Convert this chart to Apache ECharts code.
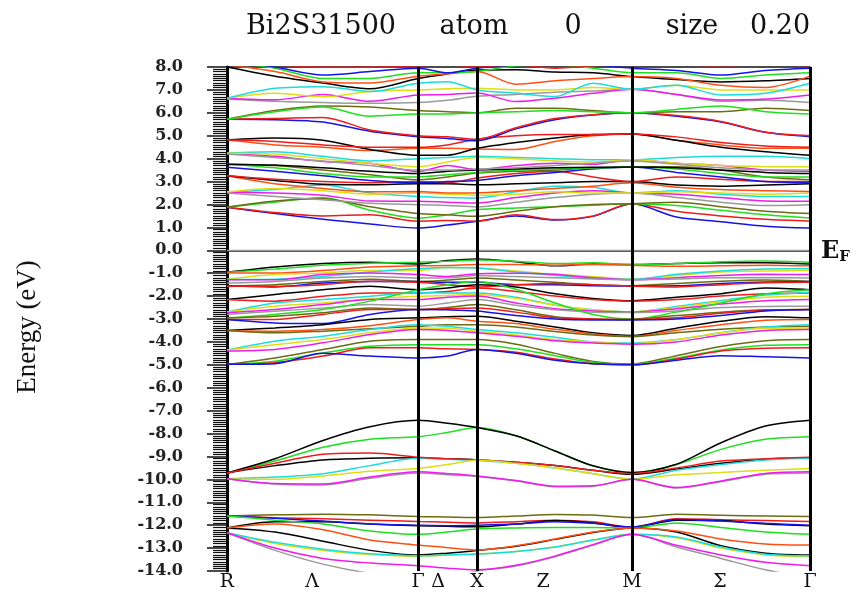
<!DOCTYPE html>
<html>
<head>
<meta charset="utf-8">
<script src="https://cdn.jsdelivr.net/npm/echarts@6/dist/echarts.min.js"></script>
<style>
  html, body { margin: 0; padding: 0; background: #fff; }
  #chart { width: 867px; height: 592px; }
</style>
</head>
<body>
<div id="chart"></div>
<script>
// k-path: distance along the path for each sampled point
const kPos = [0, 0.48, 0.96, 1.43, 1.91, 2.205, 2.50, 2.89, 3.28, 3.66, 4.05, 4.495, 4.94, 5.385, 5.83];
const kLabels = ['R', 'Λ', 'Γ', 'Δ', 'X', 'Z', 'M', 'Σ', 'Γ'];
const kLabelPos = [0, 0.85, 1.91, 2.11, 2.50, 3.16, 4.05, 4.93, 5.83];
const kLines = [1.91, 2.50, 4.05, 5.83];

// S 3s like bands (-11.5 .. -14)
const lowBands = [
  [-11.6,-11.55,-11.52,-11.55,-11.62,-11.64,-11.67,-11.6,-11.53,-11.56,-11.67,-11.52,-11.57,-11.6,-11.62],
  [-11.6,-11.68,-11.72,-11.78,-11.84,-11.87,-11.9,-11.85,-11.78,-11.85,-12.08,-11.72,-11.76,-11.8,-11.84],
  [-12.12,-11.85,-11.85,-11.95,-12.02,-12.05,-12.07,-11.95,-11.8,-11.9,-12.1,-11.78,-11.8,-11.95,-12.02],
  [-11.6,-11.7,-11.82,-11.95,-12.0,-12.02,-12.0,-11.95,-11.85,-11.92,-12.08,-11.75,-11.82,-11.92,-12.0],
  [-11.6,-11.78,-11.95,-12.25,-12.4,-12.3,-12.17,-12.12,-12.1,-12.1,-12.12,-11.9,-12.1,-12.3,-12.4],
  [-12.12,-12.3,-12.7,-13.1,-13.3,-13.22,-13.1,-12.92,-12.62,-12.32,-12.12,-12.3,-12.9,-13.22,-13.3],
  [-12.12,-11.95,-12.2,-12.65,-12.87,-12.98,-13.08,-12.9,-12.6,-12.3,-12.12,-12.25,-12.6,-12.82,-12.87],
  [-12.33,-12.8,-13.1,-13.28,-13.36,-13.3,-13.26,-13.15,-12.95,-12.65,-12.4,-12.55,-13.0,-13.3,-13.36],
  [-12.33,-12.75,-13.05,-13.25,-13.33,-13.3,-13.26,-13.15,-12.95,-12.65,-12.4,-12.52,-12.95,-13.27,-13.33],
  [-12.33,-13.1,-13.7,-14.1,-14.3,-14.3,-14.0,-13.78,-13.38,-12.87,-12.4,-12.95,-13.45,-13.95,-14.3],
  [-12.33,-13.0,-13.45,-13.65,-13.77,-13.88,-13.95,-13.75,-13.35,-12.85,-12.4,-12.88,-13.3,-13.62,-13.77]
];
const lowColors = ['o','r','k','b','g','k','n','y','c','a','m'];

// Bi 6s like bands (-7.4 .. -10.4)
const midBands = [
  [-9.72,-9.2,-8.6,-8.25,-8.14,-7.95,-7.74,-8.1,-8.76,-9.41,-9.72,-9.35,-8.69,-8.25,-8.14],
  [-9.72,-9.1,-8.3,-7.7,-7.42,-7.55,-7.74,-8.1,-8.76,-9.41,-9.7,-9.34,-8.4,-7.67,-7.42],
  [-9.72,-9.4,-9.15,-9.08,-9.06,-9.1,-9.15,-9.25,-9.4,-9.6,-9.78,-9.55,-9.3,-9.12,-9.06],
  [-9.97,-9.9,-9.75,-9.4,-9.08,-9.12,-9.17,-9.3,-9.5,-9.75,-9.99,-9.6,-9.35,-9.15,-9.08],
  [-9.72,-9.3,-8.9,-8.85,-9.03,-9.1,-9.15,-9.25,-9.4,-9.6,-9.75,-9.5,-9.2,-9.1,-9.03],
  [-9.97,-10.0,-9.85,-9.65,-9.53,-9.35,-9.17,-9.3,-9.5,-9.75,-10.0,-9.8,-9.7,-9.6,-9.53],
  [-9.97,-10.2,-10.25,-9.95,-9.72,-9.8,-9.87,-10.07,-10.32,-10.3,-10.0,-10.38,-10.1,-9.78,-9.72],
  [-9.97,-10.18,-10.2,-9.9,-9.67,-9.75,-9.85,-10.05,-10.3,-10.28,-10.0,-10.36,-10.07,-9.74,-9.67]
];
const midColors = ['g','k','k','c','r','y','a','m'];

// valence bands (-0.4 .. -5.0)
const valBands = [
  [-0.96,-0.73,-0.58,-0.52,-0.6,-0.45,-0.38,-0.5,-0.68,-0.6,-0.62,-0.58,-0.55,-0.55,-0.6],
  [-0.96,-0.82,-0.65,-0.57,-0.52,-0.48,-0.42,-0.48,-0.58,-0.55,-0.63,-0.58,-0.5,-0.47,-0.52],
  [-0.99,-0.99,-0.88,-0.73,-0.68,-0.67,-0.62,-0.62,-0.65,-0.62,-0.65,-0.7,-0.68,-0.65,-0.68],
  [-1.26,-1.06,-0.99,-0.88,-0.88,-0.75,-0.77,-0.9,-1.05,-1.15,-1.26,-1.1,-0.95,-0.9,-0.88],
  [-1.28,-1.26,-1.14,-0.95,-0.8,-0.75,-0.77,-0.95,-1.1,-1.2,-1.27,-1.05,-0.9,-0.82,-0.8],
  [-1.29,-1.29,-1.06,-0.99,-1.06,-1.14,-1.02,-1.0,-1.05,-1.2,-1.29,-1.2,-1.1,-1.05,-1.06],
  [-1.43,-1.36,-1.21,-1.14,-1.21,-1.2,-1.1,-1.15,-1.2,-1.25,-1.29,-1.25,-1.2,-1.2,-1.21],
  [-1.55,-1.5,-1.36,-1.26,-1.36,-1.3,-1.21,-1.3,-1.4,-1.5,-1.55,-1.45,-1.35,-1.3,-1.36],
  [-1.55,-1.6,-1.43,-1.36,-1.36,-1.4,-1.4,-1.5,-1.5,-1.55,-1.56,-1.55,-1.45,-1.38,-1.36],
  [-1.57,-1.57,-1.5,-1.35,-1.4,-1.5,-1.6,-1.5,-1.45,-1.5,-1.57,-1.6,-1.5,-1.42,-1.4],
  [-2.15,-1.93,-1.72,-1.57,-1.72,-1.65,-1.5,-1.6,-1.9,-2.1,-2.2,-2.05,-1.9,-1.65,-1.72],
  [-2.15,-2.22,-2.01,-1.86,-1.86,-1.8,-1.65,-1.8,-2.0,-2.15,-2.22,-2.15,-2.0,-1.9,-1.86],
  [-2.69,-2.3,-2.15,-2.01,-1.84,-1.86,-1.86,-2.05,-2.4,-2.6,-2.69,-2.45,-2.2,-1.95,-1.84],
  [-2.69,-2.44,-2.3,-2.12,-2.01,-1.97,-1.93,-2.1,-2.4,-2.6,-2.69,-2.5,-2.25,-2.05,-2.01],
  [-2.73,-2.59,-2.37,-2.15,-2.15,-2.05,-2.0,-2.3,-2.55,-2.65,-2.7,-2.55,-2.35,-2.2,-2.15],
  [-2.8,-2.66,-2.52,-2.37,-2.44,-2.3,-2.15,-2.4,-2.6,-2.7,-2.72,-2.65,-2.5,-2.45,-2.44],
  [-2.95,-2.8,-2.59,-2.22,-1.72,-1.5,-1.36,-1.7,-2.3,-2.8,-3.0,-2.7,-2.3,-1.9,-1.72],
  [-2.95,-2.88,-2.73,-2.52,-2.59,-2.5,-2.37,-2.6,-2.9,-3.0,-3.02,-2.85,-2.7,-2.6,-2.59],
  [-3.02,-3.02,-2.8,-2.59,-2.59,-2.55,-2.52,-2.7,-2.95,-3.0,-3.02,-2.95,-2.75,-2.62,-2.59],
  [-3.02,-3.17,-3.2,-2.8,-2.59,-2.6,-2.65,-2.85,-3.0,-3.04,-3.04,-3.0,-2.85,-2.65,-2.59],
  [-3.5,-3.39,-3.25,-3.02,-2.95,-2.9,-2.88,-3.1,-3.35,-3.6,-3.72,-3.4,-3.1,-2.9,-2.95],
  [-3.5,-3.53,-3.46,-3.29,-3.02,-2.95,-3.1,-3.2,-3.45,-3.65,-3.75,-3.5,-3.25,-3.05,-3.02],
  [-3.5,-3.6,-3.53,-3.43,-3.32,-3.25,-3.25,-3.35,-3.55,-3.7,-3.77,-3.6,-3.45,-3.35,-3.32],
  [-4.35,-3.97,-3.75,-3.46,-3.25,-3.32,-3.46,-3.6,-3.8,-4.0,-4.05,-3.9,-3.6,-3.35,-3.25],
  [-4.35,-4.12,-3.9,-3.6,-3.39,-3.4,-3.53,-3.7,-3.9,-4.0,-4.08,-3.9,-3.6,-3.4,-3.39],
  [-4.4,-4.33,-4.04,-3.68,-3.46,-3.5,-3.6,-3.75,-3.95,-4.05,-4.1,-4.0,-3.7,-3.5,-3.46],
  [-4.98,-4.7,-4.33,-3.97,-3.9,-3.9,-3.9,-4.1,-4.5,-4.85,-4.96,-4.6,-4.2,-3.95,-3.9],
  [-4.98,-4.84,-4.48,-4.19,-4.12,-4.12,-4.12,-4.3,-4.6,-4.9,-4.98,-4.7,-4.35,-4.15,-4.12],
  [-4.98,-4.91,-4.62,-4.26,-4.26,-4.3,-4.33,-4.45,-4.75,-4.95,-5.0,-4.75,-4.4,-4.28,-4.26],
  [-4.98,-4.95,-4.5,-4.62,-4.7,-4.62,-4.33,-4.5,-4.8,-4.95,-5.0,-4.8,-4.6,-4.65,-4.7]
];
const valColors = ['k','g','n','y','c','m','a','o','b','r','k','r','c','y','m','a','g','o','r','b','k','n','o','c','y','m','o','g','r','b'];

// conduction bands (0.9 .. 8+)
const conBands = [
  [1.88,1.6,1.35,1.15,0.97,1.1,1.27,1.5,1.32,1.48,2.03,1.45,1.25,1.05,0.97],
  [1.88,1.65,1.5,1.55,1.27,1.3,1.27,1.55,1.34,1.5,2.03,1.7,1.5,1.35,1.27],
  [1.88,2.1,2.3,1.75,1.41,1.55,1.77,1.85,1.9,1.97,2.03,1.95,1.75,1.55,1.41],
  [1.88,2.15,2.25,1.9,1.6,1.55,1.48,1.7,1.9,2.0,2.03,2.1,1.9,1.7,1.6],
  [2.53,2.65,2.85,2.5,2.35,2.3,2.28,2.55,2.8,2.75,2.5,2.6,2.45,2.35,2.35],
  [2.53,2.5,2.4,2.15,2.14,2.1,2.06,2.3,2.5,2.6,2.5,2.45,2.3,2.15,2.14],
  [2.5,2.35,2.2,2.05,1.99,1.95,1.9,2.1,2.3,2.45,2.5,2.3,2.1,1.95,1.99],
  [2.55,2.7,2.6,2.45,2.5,2.45,2.4,2.45,2.55,2.5,2.5,2.55,2.5,2.45,2.5],
  [3.25,2.9,2.7,2.55,2.57,2.5,2.5,2.6,2.7,2.8,2.95,2.75,2.65,2.6,2.57],
  [3.25,3.05,2.88,2.86,2.9,2.9,2.86,2.9,2.95,3.0,3.0,2.85,2.8,2.85,2.9],
  [3.25,3.1,3.0,2.95,3.0,2.95,3.15,3.35,3.45,3.2,3.0,3.2,3.1,3.0,3.0],
  [3.62,3.45,3.25,3.05,2.95,3.0,3.05,3.25,3.4,3.55,3.63,3.4,3.2,3.0,2.95],
  [3.76,3.7,3.5,3.3,3.08,3.2,3.37,3.45,3.5,3.6,3.63,3.65,3.5,3.2,3.08],
  [3.76,3.6,3.35,3.2,3.2,3.3,3.4,3.5,3.55,3.6,3.63,3.55,3.35,3.2,3.2],
  [3.76,3.72,3.6,3.45,3.35,3.45,3.5,3.55,3.6,3.62,3.63,3.6,3.5,3.4,3.35],
  [4.24,4.1,3.88,3.8,3.44,3.7,3.52,3.7,3.8,3.75,3.95,3.8,3.7,3.5,3.44],
  [4.24,4.3,4.1,3.9,4.0,4.05,4.1,4.05,4.0,3.95,3.95,4.05,4.1,4.1,4.0],
  [4.24,4.2,4.0,3.8,3.65,3.85,4.05,4.0,3.9,3.85,3.95,3.8,3.7,3.65,3.65],
  [4.2,4.05,3.9,3.7,3.5,3.5,3.55,3.6,3.7,3.8,3.9,3.75,3.6,3.5,3.5],
  [4.82,4.6,4.5,4.35,4.45,4.45,4.42,4.4,4.75,5.0,5.08,4.8,4.6,4.45,4.45],
  [4.82,4.9,4.8,4.4,4.15,4.15,4.45,4.7,4.9,5.05,5.08,4.8,4.5,4.3,4.15],
  [4.82,4.75,4.6,4.5,4.5,4.6,4.85,5.0,5.05,5.05,5.08,4.95,4.7,4.55,4.5],
  [5.72,5.7,5.6,5.2,4.96,4.88,4.78,5.3,5.7,5.9,6.0,5.85,5.6,5.15,4.96],
  [5.72,5.75,5.8,5.25,5.0,4.95,4.85,5.35,5.75,5.92,6.0,5.88,5.62,5.15,5.0],
  [5.72,6.1,6.3,6.25,6.1,6.05,6.0,6.2,6.2,6.1,6.0,6.05,6.05,6.2,6.1],
  [5.72,6.05,6.25,5.85,5.95,5.95,6.0,6.05,6.1,6.05,6.0,6.15,6.3,6.05,5.95],
  [6.6,6.5,6.45,6.42,6.45,6.55,6.72,6.8,6.9,6.95,7.03,6.8,6.5,6.55,6.45],
  [6.64,6.57,6.8,6.5,6.78,6.8,6.86,6.49,6.64,6.85,7.03,6.8,6.56,6.6,6.78],
  [6.64,6.85,6.7,6.93,7.0,7.05,7.07,7.0,7.0,7.1,7.03,7.2,7.0,7.0,7.0],
  [6.64,7.07,7.14,6.93,7.29,7.36,7.0,6.86,6.71,7.29,7.03,7.2,6.78,6.85,7.29],
  [8.0,7.6,7.3,7.05,7.5,7.7,7.87,7.88,7.78,7.75,7.58,7.45,7.35,7.4,7.5],
  [8.1,7.8,7.35,7.3,7.6,7.7,7.8,7.25,7.4,7.5,7.58,7.5,7.2,7.1,7.6],
  [8.2,7.95,7.5,7.5,7.75,7.75,7.8,8.05,8.1,7.95,7.75,7.75,7.5,7.65,7.75],
  [8.3,8.0,7.65,7.8,7.95,7.75,7.95,8.1,8.2,8.1,7.95,7.85,7.65,7.85,7.95],
  [8.4,8.1,8.0,8.0,8.05,8.1,8.0,8.1,7.95,8.05,8.15,8.1,8.05,8.1,8.05]
];
const conColors = ['b','r','g','o','c','m','a','y','n','k','r','b','o','g','k','m','c','y','a','n','k','r','b','r','o','g','a','m','y','c','k','n','g','b','r'];

const palette = {
  k: '#000000', r: '#ee1c1c', g: '#1fe01f', b: '#1414e6', c: '#1cdcdc',
  m: '#ee1cee', y: '#dede14', a: '#9a9a9a', o: '#6c6c12', n: '#ff5014'
};

const series = [];
[[lowBands, lowColors], [midBands, midColors], [valBands, valColors], [conBands, conColors]].forEach(([bands, cols]) => {
  bands.forEach((band, i) => {
    series.push({
      type: 'line',
      data: band.map((e, j) => [kPos[j], e]),
      smooth: 0.3,
      showSymbol: false,
      silent: true,
      lineStyle: { color: palette[cols[i]], width: 1.5 }
    });
  });
});

// high-symmetry lines and the Fermi level
series.push({
  type: 'line',
  data: [],
  silent: true,
  markLine: {
    symbol: ['none', 'none'],
    silent: true,
    animation: false,
    label: { show: false },
    data: [
      { yAxis: 0, lineStyle: { color: '#9a9a9a', width: 1.3, type: 'solid' } },
      ...kLines.map(k => ({ xAxis: k, lineStyle: { color: '#000', width: 3, type: 'solid' } }))
    ]
  }
});

const serif = 'DejaVu Serif';
const titleFont = '27px "DejaVu Serif"';

const option = {
  animation: false,
  backgroundColor: '#fff',
  grid: { left: 227, right: 57, top: 67, bottom: 20 },
  xAxis: [
    {
      type: 'value', min: 0, max: 5.83, position: 'bottom',
      axisLine: { show: true, lineStyle: { color: '#111', width: 1.5 } },
      axisTick: { show: false },
      splitLine: { show: false },
      axisLabel: {
        customValues: kLabelPos,
        showMinLabel: true, showMaxLabel: true,
        formatter: (v) => {
          let best = 0;
          kLabelPos.forEach((p, i) => { if (Math.abs(p - v) < Math.abs(kLabelPos[best] - v)) best = i; });
          return kLabels[best];
        },
        margin: 2,
        color: '#111', fontFamily: serif, fontSize: 19
      }
    },
    {
      type: 'value', min: 0, max: 5.83, position: 'top',
      axisLine: { show: true, lineStyle: { color: '#111', width: 1.5 } },
      axisTick: { show: false }, axisLabel: { show: false }, splitLine: { show: false }
    }
  ],
  yAxis: {
    type: 'value', min: -14, max: 8, interval: 1,
    axisLine: { show: true, lineStyle: { color: '#000', width: 3 } },
    axisTick: { show: true, length: 20, lineStyle: { color: '#111', width: 1.5 } },
    minorTick: { show: true, splitNumber: 10, length: 14, lineStyle: { color: '#111', width: 1.2 } },
    splitLine: { show: false },
    axisLabel: {
      margin: 44,
      formatter: (v) => v.toFixed(1),
      color: '#222', fontFamily: serif, fontWeight: 'bold', fontSize: 16
    }
  },
  graphic: [
    { type: 'text', x: 321, y: 27, style: { text: 'Bi2S31500', font: titleFont, fill: '#111', align: 'center', verticalAlign: 'middle' } },
    { type: 'text', x: 474, y: 27, style: { text: 'atom', font: titleFont, fill: '#111', align: 'center', verticalAlign: 'middle' } },
    { type: 'text', x: 573, y: 27, style: { text: '0', font: titleFont, fill: '#111', align: 'center', verticalAlign: 'middle' } },
    { type: 'text', x: 692, y: 27, style: { text: 'size', font: titleFont, fill: '#111', align: 'center', verticalAlign: 'middle' } },
    { type: 'text', x: 780, y: 27, style: { text: '0.20', font: titleFont, fill: '#111', align: 'center', verticalAlign: 'middle' } },
    { type: 'text', x: 28, y: 327, rotation: Math.PI / 2,
      style: { text: 'Energy (eV)', font: '27px "Liberation Serif"', fill: '#111', align: 'center', verticalAlign: 'middle' } },
    { type: 'text', x: 821, y: 252,
      style: {
        text: '{e|E}{f|F}', verticalAlign: 'middle', fill: '#111',
        rich: {
          e: { font: 'bold 24px "DejaVu Serif"', fill: '#111' },
          f: { font: 'bold 15px "DejaVu Serif"', fill: '#111', padding: [11, 0, 0, 0] }
        }
      } }
  ],
  series
};

const myChart = echarts.init(document.getElementById('chart'));
myChart.setOption(option);
window.addEventListener('resize', () => { myChart.resize(); });
</script>
</body>
</html>
